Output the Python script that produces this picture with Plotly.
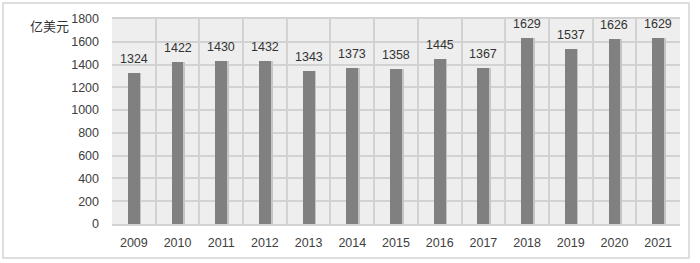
import plotly.graph_objects as go

years = ["2009", "2010", "2011", "2012", "2013", "2014", "2015", "2016", "2017", "2018", "2019", "2020", "2021"]
values = [1324, 1422, 1430, 1432, 1343, 1373, 1358, 1445, 1367, 1629, 1537, 1626, 1629]
y_ticks = [0, 200, 400, 600, 800, 1000, 1200, 1400, 1600, 1800]
unit_label = "亿美元"

fig = go.Figure()
# subtle shadow to the right of each bar
fig.add_trace(go.Bar(x=years, y=values, width=0.31, offset=-0.135,
                     marker=dict(color="#c4c4c4", line=dict(width=0)),
                     hoverinfo="skip", showlegend=False))
fig.add_trace(go.Bar(x=years, y=values, width=0.27, offset=-0.135,
                     marker=dict(color="#808080", line=dict(width=0)),
                     showlegend=False))

for i, v in enumerate(values):
    fig.add_annotation(x=i, y=v, text=str(v), showarrow=False,
                       yanchor="bottom", yshift=5,
                       font=dict(family="Liberation Sans", size=12.5, color="#333333"))

fig.add_annotation(x=-0.072, xref="paper", y=1.0, yref="paper", text=unit_label,
                   showarrow=False, xanchor="right", yanchor="middle", yshift=-6,
                   font=dict(family="Noto Sans CJK SC", size=13, color="#333333"))

# outer border of the figure
fig.add_shape(type="rect", xref="paper", yref="paper",
              x0=-0.1919, x1=1.0158, y0=-0.1659, y1=1.078,
              line=dict(color="#d4d4d4", width=1.5), fillcolor="rgba(0,0,0,0)")

fig.update_layout(
    width=700, height=263,
    margin=dict(l=112, r=20, t=19, b=39),
    paper_bgcolor="white", plot_bgcolor="#eeeeee",
    barmode="overlay", bargap=0,
    xaxis=dict(type="category", range=[-0.5, len(years) - 0.5],
               tickson="boundaries", ticks="", showgrid=True,
               gridcolor="#d2d2d2", gridwidth=1.5, tickangle=0,
               ticklabelstandoff=6,
               showline=True, linecolor="#d2d2d2", linewidth=1.5, mirror=True,
               tickfont=dict(family="Liberation Sans", size=12.5, color="#404040")),
    yaxis=dict(range=[0, 1800], tickvals=y_ticks, showgrid=True,
               gridcolor="#d2d2d2", gridwidth=1.5, zeroline=False, ticks="",
               ticklabelstandoff=12,
               tickfont=dict(family="Liberation Sans", size=12.5, color="#404040")),
)

fig.write_html("out.html", config={"displayModeBar": False},
               post_script="document.body.style.margin='0';document.body.style.overflow='hidden';")
